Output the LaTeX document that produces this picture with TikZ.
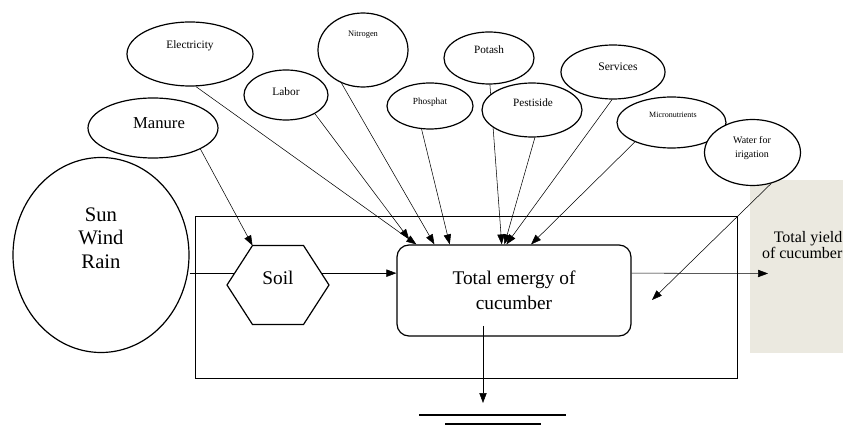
\documentclass[tikz,border=0pt]{standalone}
\usepackage{fontspec}
\setmainfont{Liberation Serif}
\usetikzlibrary{shapes.geometric,arrows.meta,backgrounds}

\definecolor{yieldfill}{RGB}{235,233,224}
\tikzset{every picture/.style={line width=0.9pt}}
\tikzset{
  src/.style={draw, ellipse, fill=white, inner sep=0pt},
  flow/.style={-{Triangle[length=7.5pt,width=5.5pt]}},
}

\begin{document}
\begin{tikzpicture}[x=0.75pt,y=0.75pt,yscale=-1,xscale=1]
\useasboundingbox (0,0) rectangle (843,431);

\node[src, minimum width=132pt, minimum height=146.25pt] (sun) at (101,255) {};
\node[font=\fontsize{15.5}{17.6}\selectfont, align=center] (suntxt) at (101,238) {Sun\\Wind\\Rain};

\node[src, minimum width=97.5pt, minimum height=45pt] (manure) at (153,128) {};
\node[font=\fontsize{12.5}{14}\selectfont] (manuretxt) at (159,123) {Manure};

\node[src, minimum width=94.5pt, minimum height=48pt] (elec) at (190,54) {};
\node[font=\fontsize{8.5}{10}\selectfont] (electxt) at (190,46) {Electricity};

\node[src, minimum width=63pt, minimum height=37.5pt] (labor) at (286,95) {};
\node[font=\fontsize{8.5}{10}\selectfont] (labortxt) at (286,92) {Labor};

\node[src, minimum width=67.5pt, minimum height=55.5pt] (nitro) at (363,50) {};
\node[font=\fontsize{6.3}{8}\selectfont] (nitrotxt) at (363,35) {Nitrogen};

\node[src, minimum width=64.5pt, minimum height=34.5pt] (phos) at (430,106) {};
\node[font=\fontsize{7}{8}\selectfont] (phostxt) at (430,102) {Phosphat};

\node[src, minimum width=67.5pt, minimum height=39pt] (potash) at (489,58) {};
\node[font=\fontsize{8.4}{10}\selectfont] (potashtxt) at (489,50) {Potash};

\node[src, minimum width=75pt, minimum height=40.5pt] (pest) at (532,110) {};
\node[font=\fontsize{8.4}{10}\selectfont] (pesttxt) at (533,103) {Pestiside};

\node[src, minimum width=78pt, minimum height=40.5pt] (serv) at (613,72) {};
\node[font=\fontsize{8.7}{10}\selectfont] (servtxt) at (618,67) {Services};

\node[src, minimum width=81.75pt, minimum height=38.25pt] (micro) at (671.5,122.5) {};
\node[font=\fontsize{6}{7}\selectfont] (microtxt) at (673,115) {Micronutrients};

\node[src, minimum width=72pt, minimum height=49.5pt] (water) at (752.5,152.5) {};
\node[font=\fontsize{7.5}{10}\selectfont, align=center] (watertxt) at (752,148) {Water for\\irigation};

% soil hexagon
\draw (227,285) -- coordinate[pos=0.3] (soilin) (252.5,245.5) coordinate (soiltl)
  -- (303.5,245.5) -- coordinate[pos=0.7] (soilout) (329,285)
  -- (303.5,324.5) -- (252.5,324.5) -- cycle;
\node[font=\fontsize{14.5}{17}\selectfont] (soil) at (278,278) {Soil};

\node[draw, rounded corners=9pt, minimum width=175.5pt, minimum height=68.25pt, align=center,
  font=\fontsize{14.5}{19}\selectfont] (emergy) at (514,290.5) {Total emergy of\\cucumber};

\node[anchor=east, align=right, inner sep=0pt, font=\fontsize{12}{12}\selectfont] (yield) at (843,245) {Total yield\\of cucumber};

\coordinate (outtip) at (768,273.5);
\coordinate (wend) at (652,300);
\coordinate (sink) at (483,403);

\begin{scope}[on background layer]
\fill[yieldfill] (750,180) rectangle (843,353);
\draw (195,216) rectangle (737,378);

\draw (soilin -| sun.east) -- (soilin);
\draw[flow] (soilout) -- (soilout -| emergy.west);
\draw[flow] (manure.-24) -- (soiltl);

\draw[flow] (elec.-80) -- ([xshift=15pt]emergy.north west);
\draw[flow, shorten >=5pt] (labor.-33) -- ([xshift=12.5pt]emergy.north west);
\draw[flow] (nitro.-123) -- ([xshift=28.5pt]emergy.north west);
\draw[flow] (phos.-110) -- ([xshift=40pt]emergy.north west);
\draw[flow] (potash.-88) -- ([xshift=79pt]emergy.north west);
\draw[flow] (pest.-84) -- ([xshift=81pt]emergy.north west);
\draw[flow] (serv.-92) -- ([xshift=82.5pt]emergy.north west);
\draw[flow] (micro.-152) -- ([xshift=101pt]emergy.north west);
\draw[flow] (water.-59) -- (wend);

\draw[flow] (soilout -| emergy.east) -- (outtip);
\draw[flow, shorten <=-8pt] (emergy.south -| sink) -- (sink);
\end{scope}

\draw (419,415) -- (566,415);
\draw (445,424) -- (541,424);

\end{tikzpicture}
\end{document}
